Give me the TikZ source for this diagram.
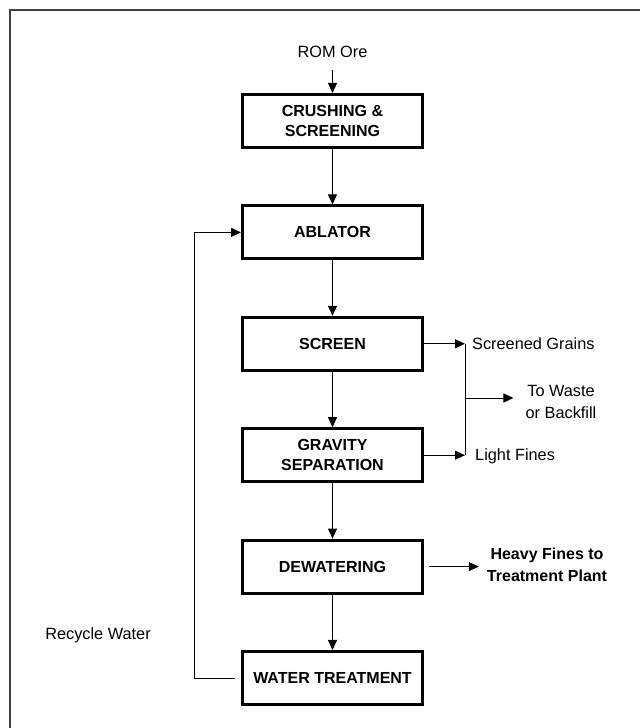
\documentclass[tikz,border=0pt]{standalone}
\usepackage{fontspec}
\setmainfont{Liberation Sans}
\usetikzlibrary{arrows.meta,positioning}
\definecolor{framegray}{RGB}{64,64,72}
\tikzset{
  stage/.style={draw, line width=3pt, minimum width=180pt, minimum height=53pt,
    align=center, inner sep=0pt, font=\bfseries\fontsize{16}{20}\selectfont},
  flow/.style={-{Triangle[length=10pt,width=9pt]}, line width=0.9pt},
  note/.style={align=center, inner sep=0pt, font=\fontsize{16.3}{21.5}\selectfont},
}
\begin{document}
\begin{tikzpicture}[x=1pt, y=1pt, node distance=55.4pt]
\useasboundingbox (0,0) rectangle (640,728);
% outer frame
\draw[framegray, line width=2pt] (10,0) -- (10,718) -- (640,718);
% process stages
\node[stage] (crush) at (332.5,607) {CRUSHING \&\\SCREENING};
\node[stage, below=of crush] (abl) {ABLATOR};
\node[stage, below=of abl] (scr) {SCREEN};
\node[stage, below=of scr] (grav) {GRAVITY\\SEPARATION};
\node[stage, below=of grav] (dew) {DEWATERING};
\node[stage, below=of dew] (wt) {WATER TREATMENT};
% feed
\node[note] (rom) at (332.5,676) {ROM Ore};
\draw[flow] ([yshift=-12pt]rom.south) -- (crush);
% main line
\draw[flow] (crush) -- (abl);
\draw[flow] (abl) -- (scr);
\draw[flow] (scr) -- (grav);
\draw[flow] (grav) -- (dew);
\draw[flow] (dew) -- (wt);
% side products
\coordinate (sg) at (465,0);
\coordinate (mid) at (465,330);
\node[note, anchor=west] (grains) at (472,384) {Screened Grains};
\node[note, anchor=west] (light) at (475,272) {Light Fines};
\node[note] (waste) at (561,326) {To Waste\\or Backfill};
\draw[flow] (scr.east) -- (sg |- scr.east);
\draw[flow] (grav.east) -- (sg |- grav.east);
\draw[line width=0.9pt] (sg |- scr.east) -- (sg |- grav.east);
\draw[flow] (mid) -- ([xshift=-12pt]waste.west |- mid);
\node[note, font=\bfseries\fontsize{16}{21.5}\selectfont] (heavy) at (547,163) {Heavy Fines to\\Treatment Plant};
\draw[flow, shorten <=5pt] (dew.east) -- ([xshift=-8pt]heavy.west |- dew.east);
% recycle
\coordinate (rec) at (194,0);
\node[note] (recw) at (98,93) {Recycle Water};
\draw[flow] ([xshift=-6pt]wt.west) -| (rec |- abl.west) -- (abl.west);
\end{tikzpicture}
\end{document}
